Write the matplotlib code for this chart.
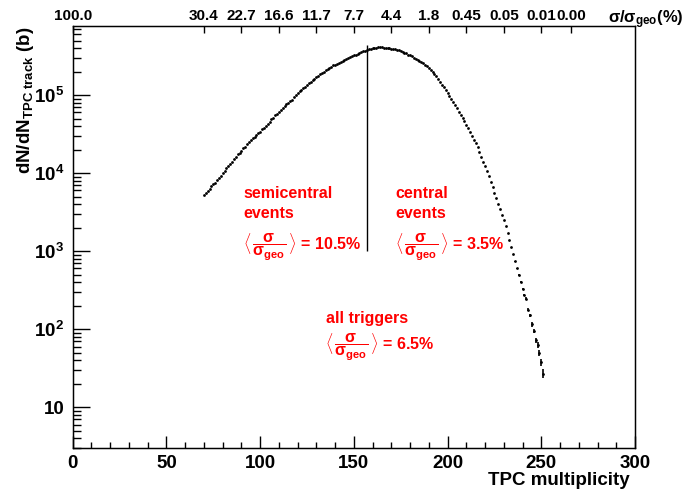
# TPC multiplicity distribution with centrality scale on top
import numpy as np
import matplotlib.pyplot as plt
from matplotlib.ticker import FixedLocator, MultipleLocator, LogLocator, NullFormatter, NullLocator

plt.rcParams['font.family'] = 'Liberation Sans'
plt.rcParams['font.weight'] = 'bold'
plt.rcParams['axes.labelweight'] = 'bold'
plt.rcParams['mathtext.fontset'] = 'custom'
plt.rcParams['mathtext.rm'] = 'Liberation Sans:bold'
plt.rcParams['mathtext.bf'] = 'Liberation Sans:bold'
plt.rcParams['mathtext.it'] = 'Liberation Sans:bold'
plt.rcParams['mathtext.sf'] = 'Liberation Sans:bold'

# --- data (one value per multiplicity bin, 70..251) ---
first_bin = 70
dn_dn = [
    5250, 5500, 5890, 6310, 6760, 7240, 7590, 8130, 8710, 9330,              # 70-79
    10000, 10700, 11500, 12300, 13200, 14100, 15100, 16200, 17400, 18200,    # 80-89
    19500, 20900, 21900, 23400, 25100, 26300, 28200, 29500, 30900, 32400,    # 90-99
    33900, 36300, 38000, 40700, 42700, 45700, 49000, 51300, 55000, 57500,    # 100-109
    61700, 64600, 69200, 72400, 75900, 79400, 83200, 87100, 93300, 100000,   # 110-119
    107000, 112000, 117000, 123000, 129000, 135000, 141000, 148000, 155000, 162000,  # 120-129
    170000, 178000, 186000, 195000, 200000, 209000, 214000, 224000, 229000, 240000,  # 130-139
    245000, 251000, 257000, 263000, 275000, 282000, 288000, 295000, 309000, 316000,  # 140-149
    324000, 331000, 339000, 347000, 355000, 363000, 372000, 380000, 389000, 394000,  # 150-159
    398000, 403000, 407000, 409000, 412000, 409000, 407000, 405000, 401000, 398000,  # 160-169
    394000, 389000, 385000, 380000, 376000, 367000, 359000, 351000, 343000, 331000,  # 170-179
    324000, 313000, 302000, 292000, 282000, 275000, 266000, 257000, 245000, 234000,  # 180-189
    221000, 209000, 197000, 186000, 174000, 160000, 148000, 136000, 126000, 116000,  # 190-199
    106000, 97700, 89100, 81300, 74100, 67600, 61700, 56200, 51300, 46200,   # 200-209
    41700, 37600, 33900, 30200, 26900, 24000, 21400, 18600, 16200, 14100,    # 210-219
    12300, 10700, 9120, 7760, 6610, 5620, 4790, 4070, 3470, 2950,            # 220-229
    2510, 2090, 1700, 1380, 1120, 912, 741, 603, 490, 398,                   # 230-239
    331, 275, 245, 178, 150, 115, 95, 72, 63, 50,                            # 240-249
    38, 27,                                                                  # 250-251
]
# statistical errors, only visible in the tail (bins 236..251)
tail_err = [15, 14, 13, 12, 11, 10, 10, 8, 8, 7, 6, 5.5, 5, 4.5, 4, 3.5]

# central trigger threshold line
cut_mult = 157
cut_ymin, cut_ymax = 1.0e3, 4.4e5

# top axis: sigma/sigma_geo (%) at given multiplicities
sigma_pos = [0, 70, 90, 110, 130, 150, 170, 190, 210, 230, 250, 266]
sigma_lbl = ["100.0", "30.4", "22.7", "16.6", "11.7", "7.7", "4.4", "1.8",
             "0.45", "0.05", "0.01", "0.00"]

y_major = [10, 1e2, 1e3, 1e4, 1e5]
y_major_lbl = ["10", r"$10^{2}$", r"$10^{3}$", r"$10^{4}$", r"$10^{5}$"]

mult = np.arange(first_bin, first_bin + len(dn_dn))
dn_dn = np.array(dn_dn, dtype=float)
n_tail = len(tail_err)

# --- plot ---
fig = plt.figure(figsize=(6.91, 4.92), dpi=100)
ax = fig.add_axes([0.1052, 0.0894, 0.8138, 0.8578])

ax.plot(mult, dn_dn, ls='none', marker='o', ms=2.0, mew=0, color='black')
ax.errorbar(mult[-n_tail:], dn_dn[-n_tail:], yerr=tail_err, fmt='none',
            ecolor='black', elinewidth=1.2, capsize=0)
ax.vlines(cut_mult, cut_ymin, cut_ymax, color='black', lw=1.0)

ax.set_yscale('log')
ax.set_xlim(0, 300)
ax.set_ylim(3, 7.7e5)

ax.xaxis.set_major_locator(MultipleLocator(50))
ax.xaxis.set_minor_locator(MultipleLocator(10))
ax.yaxis.set_major_locator(FixedLocator(y_major))
ax.set_yticklabels(y_major_lbl)
ax.yaxis.set_minor_locator(LogLocator(base=10, subs=range(2, 10)))
ax.yaxis.set_minor_formatter(NullFormatter())

ax.tick_params(axis='x', which='major', direction='in', length=9, width=1,
               labelsize=13.5, pad=5, top=False)
ax.tick_params(axis='x', which='minor', direction='in', length=4.5, width=1, top=False)
ax.tick_params(axis='y', which='major', direction='in', length=12, width=1,
               labelsize=13.5, pad=6, right=False)
ax.tick_params(axis='y', which='minor', direction='in', length=6, width=1, right=False)

for sp in ax.spines.values():
    sp.set_linewidth(1.0)

ax.set_ylabel(r"dN/dN$_{\mathrm{TPC\ track}}$ (b)", fontsize=13.5, loc='top',
              fontweight='bold')
ax.yaxis.set_label_coords(-0.065, 1.0)
ax.set_xlabel("TPC multiplicity", fontsize=13.5, loc='right', fontweight='bold')
ax.xaxis.set_label_coords(0.99, -0.058)

# top axis
ax2 = ax.twiny()
ax2.set_xlim(0, 300)
ax2.set_xticks(sigma_pos)
ax2.set_xticklabels(sigma_lbl)
ax2.xaxis.set_minor_locator(NullLocator())
ax2.tick_params(axis='x', direction='in', length=5, width=1, labelsize=11, pad=2)
fig.text(608 / 691, 1 - 23 / 492, r"$\sigma/\sigma_{geo}$(%)", fontsize=12,
         ha='left', va='baseline')

# annotations
red = '#ff0000'
frac = r"$\langle\,\dfrac{\sigma}{\sigma_{geo}}\,\rangle$"
ax.text(90.9, 4800, "semicentral", color=red, fontsize=11.5, va='baseline')
ax.text(90.9, 2640, "events", color=red, fontsize=11.5, va='baseline')
ax.text(90.9, 1110, frac + " = 10.5%", color=red, fontsize=11.5, va='center')
ax.text(172, 4800, "central", color=red, fontsize=11.5, va='baseline')
ax.text(172, 2640, "events", color=red, fontsize=11.5, va='baseline')
ax.text(172, 1110, frac + " = 3.5%", color=red, fontsize=11.5, va='center')
ax.text(135.2, 120, "all triggers", color=red, fontsize=11.5, va='baseline')
ax.text(134.7, 59, frac + " = 6.5%", color=red, fontsize=11.5, va='center')

fig.savefig("out.png", dpi=100)
